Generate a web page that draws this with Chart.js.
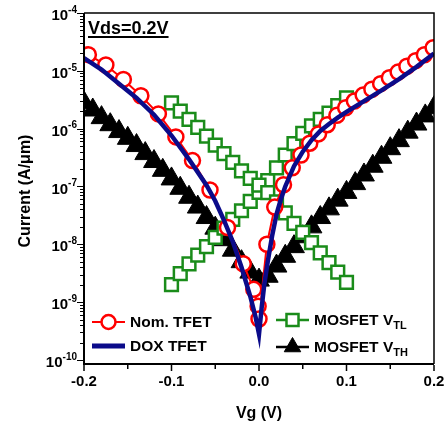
<!DOCTYPE html>
<html>
<head>
<meta charset="utf-8">
<script src="https://cdn.jsdelivr.net/npm/chart.js@4.4.1/dist/chart.umd.min.js"></script>
<style>
  body { margin: 0; background: #fff; }
  #wrap { width: 448px; height: 428px; }
</style>
</head>
<body>
<div id="wrap"><canvas id="myChart" width="448" height="428"></canvas></div>
<script>
// Nom. TFET (red circles)
const nomVg = [-0.195, -0.175, -0.155, -0.135, -0.115, -0.095, -0.076, -0.056, -0.036, -0.018, -0.006, -0.001, 0.0,
  0.009, 0.018, 0.028, 0.038, 0.048, 0.058, 0.068, 0.078, 0.089, 0.099, 0.109, 0.119, 0.129, 0.139, 0.149, 0.159, 0.169, 0.179, 0.189, 0.199];
const nomI = [1.9e-5, 1.26e-5, 7.1e-6, 3.7e-6, 1.8e-6, 7.2e-7, 2.8e-7, 8.7e-8, 1.95e-8, 4.6e-9, 1.66e-9, 8.5e-10, 5.1e-10,
  1.0e-8, 4.4e-8, 1.07e-7, 2.1e-7, 3.5e-7, 5.6e-7, 8.1e-7, 1.17e-6, 1.7e-6, 2.3e-6, 3.0e-6, 3.8e-6, 4.8e-6, 6.0e-6, 7.6e-6, 9.5e-6, 1.2e-5, 1.5e-5, 1.9e-5, 2.5e-5];

// DOX TFET (blue line)
const doxVg = [-0.2, -0.18, -0.16, -0.14, -0.12, -0.1, -0.08, -0.06, -0.05, -0.04, -0.03, -0.02, -0.01, -0.004, 0.0,
  0.003, 0.006, 0.01, 0.015, 0.02, 0.025, 0.03, 0.04, 0.05, 0.06, 0.07, 0.08, 0.09, 0.1, 0.12, 0.14, 0.16, 0.18, 0.2];
const doxI = [1.66e-5, 1.05e-5, 6.0e-6, 3.4e-6, 1.74e-6, 7.6e-7, 2.95e-7, 1.05e-7, 5.6e-8, 2.6e-8, 1.12e-8, 4.0e-9, 1.26e-9, 5.6e-10, 2.8e-10,
  7.9e-10, 2.0e-9, 5.0e-9, 1.4e-8, 3.3e-8, 6.0e-8, 1.0e-7, 2.24e-7, 4.0e-7, 6.3e-7, 9.1e-7, 1.2e-6, 1.55e-6, 1.95e-6, 3.0e-6, 4.6e-6, 7.2e-6, 1.17e-5, 2.0e-5];

// MOSFET V_TL (green squares), two branches
const tlVg = [-0.1, -0.09, -0.08, -0.07, -0.06, -0.05, -0.04, -0.03, -0.02, -0.01, 0.0, 0.01, 0.02, 0.03, 0.04, 0.05, 0.06, 0.07, 0.08, 0.09, 0.1];
const tlDownI = [2.8e-6, 2.0e-6, 1.45e-6, 1.05e-6, 7.4e-7, 5.2e-7, 3.7e-7, 2.6e-7, 1.86e-7, 1.38e-7, 1.05e-7, 7.8e-8, 5.4e-8, 3.5e-8, 2.3e-8, 1.6e-8, 1.07e-8, 7.1e-9, 4.8e-9, 3.3e-9, 2.2e-9];
const tlUpI = [2.0e-9, 3.1e-9, 4.6e-9, 6.5e-9, 9.1e-9, 1.32e-8, 1.9e-8, 2.7e-8, 3.8e-8, 5.5e-8, 7.9e-8, 1.26e-7, 2.1e-7, 3.5e-7, 5.5e-7, 8.3e-7, 1.12e-6, 1.45e-6, 1.86e-6, 2.5e-6, 3.4e-6];

// MOSFET V_TH (black triangles)
const thVg = [-0.2, -0.19, -0.18, -0.17, -0.16, -0.15, -0.14, -0.13, -0.12, -0.11, -0.1, -0.09, -0.08, -0.07, -0.06, -0.05, -0.04, -0.03, -0.02, -0.01, 0.0,
  0.01, 0.02, 0.03, 0.04, 0.05, 0.06, 0.07, 0.08, 0.09, 0.1, 0.11, 0.12, 0.13, 0.14, 0.15, 0.16, 0.17, 0.18, 0.19, 0.2];
const thI = [2.8e-6, 2.1e-6, 1.55e-6, 1.17e-6, 8.9e-7, 6.8e-7, 5.1e-7, 3.7e-7, 2.7e-7, 1.9e-7, 1.35e-7, 9.3e-8, 6.5e-8, 4.4e-8, 2.9e-8, 1.9e-8, 1.2e-8, 7.9e-9, 5.0e-9, 3.3e-9, 2.4e-9,
  2.8e-9, 4.2e-9, 6.2e-9, 9.1e-9, 1.35e-8, 2.0e-8, 2.9e-8, 4.1e-8, 5.8e-8, 7.9e-8, 1.12e-7, 1.58e-7, 2.24e-7, 3.2e-7, 4.5e-7, 6.2e-7, 8.7e-7, 1.2e-6, 1.66e-6, 2.3e-6];

const xTicks = [-0.2, -0.1, 0.0, 0.1, 0.2];
const xTickLabels = ['-0.2', '-0.1', '0.0', '0.1', '0.2'];
const xMinorTicks = [-0.15, -0.05, 0.05, 0.15];
const yDecades = [-10, -9, -8, -7, -6, -5, -4];

const FONT = '"Liberation Sans", Arial, sans-serif';
const RED = '#ff0000', BLUE = '#0b0b8a', GREEN = '#1a8c1a', BLACK = '#000000';

const toPts = (xs, ys) => xs.map((x, i) => ({ x: x, y: ys[i] }));

const legendItems = [
  { text: 'Nom. TFET', sub: '', x: 92, y: 322, color: RED, width: 2, point: { pointStyle: 'circle', radius: 7, borderWidth: 2.5, borderColor: RED, backgroundColor: '#fff' } },
  { text: 'DOX TFET', sub: '', x: 92, y: 346, color: BLUE, width: 5, point: null },
  { text: 'MOSFET V', sub: 'TL', x: 276, y: 320, color: GREEN, width: 2.5, point: { pointStyle: 'rect', radius: 8.5, borderWidth: 2.5, borderColor: GREEN, backgroundColor: '#fff' } },
  { text: 'MOSFET V', sub: 'TH', x: 276, y: 347, color: BLACK, width: 2.5, point: { pointStyle: 'triangle', radius: 9.5, borderWidth: 1, borderColor: BLACK, backgroundColor: BLACK } }
];

const decorations = {
  id: 'decorations',
  afterDraw(chart) {
    const { ctx, chartArea: a, scales: { x, y } } = chart;
    ctx.save();
    ctx.strokeStyle = '#000';
    ctx.lineWidth = 1.5;
    ctx.beginPath();
    ctx.moveTo(a.left, a.top); ctx.lineTo(a.right, a.top); ctx.lineTo(a.right, a.bottom);
    ctx.stroke();
    ctx.lineWidth = 2;
    ctx.beginPath();
    ctx.moveTo(a.left, a.top); ctx.lineTo(a.left, a.bottom); ctx.lineTo(a.right, a.bottom);
    ctx.stroke();

    // y ticks, decades and minors
    ctx.lineWidth = 1.2;
    ctx.beginPath();
    yDecades.forEach(d => {
      for (let m = 1; m < 10; m++) {
        const v = m * Math.pow(10, d);
        if (v > y.max || v < y.min) continue;
        const py = Math.round(y.getPixelForValue(v)) + 0.5;
        const len = m === 1 ? 6 : 3;
        ctx.moveTo(a.left - 1, py); ctx.lineTo(a.left - 1 - len, py);
      }
    });
    ctx.stroke();

    // x ticks
    ctx.lineWidth = 1.5;
    ctx.beginPath();
    xTicks.forEach(t => { const px = x.getPixelForValue(t); ctx.moveTo(px, a.bottom + 1); ctx.lineTo(px, a.bottom + 7); });
    xMinorTicks.forEach(t => { const px = x.getPixelForValue(t); ctx.moveTo(px, a.bottom + 1); ctx.lineTo(px, a.bottom + 5); });
    ctx.stroke();

    ctx.fillStyle = '#000';
    // x tick labels
    ctx.font = 'bold 15px ' + FONT;
    ctx.textAlign = 'center';
    ctx.textBaseline = 'middle';
    xTicks.forEach((t, i) => ctx.fillText(xTickLabels[i], x.getPixelForValue(t), 382));

    // y tick labels 10^n
    yDecades.forEach(d => {
      const py = y.getPixelForValue(Math.pow(10, d));
      const ex = String(d);
      ctx.font = 'bold 10px ' + FONT;
      const ew = ctx.measureText(ex).width;
      ctx.font = 'bold 15px ' + FONT;
      const bw = ctx.measureText('10').width;
      const right = 77;
      ctx.textAlign = 'left';
      ctx.textBaseline = 'middle';
      ctx.fillText('10', right - ew - bw, py + 3);
      ctx.font = 'bold 10px ' + FONT;
      ctx.fillText(ex, right - ew, py - 3);
    });

    // axis titles
    ctx.font = 'bold 16px ' + FONT;
    ctx.textAlign = 'center';
    ctx.textBaseline = 'middle';
    ctx.fillText('Vg (V)', x.getPixelForValue(0), 414);
    ctx.save();
    ctx.translate(26, 191);
    ctx.rotate(-Math.PI / 2);
    ctx.fillText('Current (A/\u03bcm)', 0, 0);
    ctx.restore();

    // Vds annotation
    ctx.font = 'bold 18px ' + FONT;
    ctx.textAlign = 'left';
    ctx.fillText('Vds=0.2V', 88, 29);
    const tw = ctx.measureText('Vds=0.2V').width;
    ctx.lineWidth = 2;
    ctx.beginPath(); ctx.moveTo(88, 37); ctx.lineTo(88 + tw, 37); ctx.stroke();

    // legend
    legendItems.forEach(it => {
      ctx.strokeStyle = it.color;
      ctx.lineWidth = it.width;
      ctx.beginPath(); ctx.moveTo(it.x, it.y); ctx.lineTo(it.x + 33, it.y); ctx.stroke();
      if (it.point) {
        ctx.fillStyle = it.point.backgroundColor;
        ctx.strokeStyle = it.point.borderColor;
        ctx.lineWidth = it.point.borderWidth;
        Chart.helpers.drawPoint(ctx, Object.assign({ rotation: 0 }, it.point), it.x + 16.5, it.y);
      }
      ctx.fillStyle = '#000';
      ctx.font = 'bold 15.5px ' + FONT;
      ctx.textAlign = 'left';
      ctx.textBaseline = 'middle';
      const tx = it.x + 38;
      ctx.fillText(it.text, tx, it.y + 1);
      if (it.sub) {
        const w = ctx.measureText(it.text).width;
        ctx.font = 'bold 11px ' + FONT;
        ctx.fillText(it.sub, tx + w, it.y + 6);
      }
    });
    ctx.restore();
  }
};

const ctx = document.getElementById('myChart').getContext('2d');
const myChart = new Chart(ctx, {
  type: 'line',
  data: {
    datasets: [
      { label: 'DOX TFET', data: toPts(doxVg, doxI), borderColor: BLUE, borderWidth: 4.5, pointRadius: 0, order: 0 },
      { label: 'Nom. TFET', data: toPts(nomVg, nomI), borderColor: RED, borderWidth: 2, pointStyle: 'circle', pointRadius: 7.5,
        pointBorderWidth: 2.5, pointBorderColor: RED, pointBackgroundColor: '#fff', order: 1 },
      { label: 'MOSFET VTL', data: toPts(tlVg, tlDownI), borderColor: GREEN, borderWidth: 2, pointStyle: 'rect', pointRadius: 9,
        pointBorderWidth: 2.5, pointBorderColor: GREEN, pointBackgroundColor: '#fff', order: 2 },
      { label: 'MOSFET VTL b', data: toPts(tlVg, tlUpI), borderColor: GREEN, borderWidth: 2, pointStyle: 'rect', pointRadius: 9,
        pointBorderWidth: 2.5, pointBorderColor: GREEN, pointBackgroundColor: '#fff', order: 2 },
      { label: 'MOSFET VTH', data: toPts(thVg, thI), borderColor: BLACK, borderWidth: 2, pointStyle: 'triangle', pointRadius: 12,
        pointBorderWidth: 1, pointBorderColor: BLACK, pointBackgroundColor: BLACK, order: 3 }
    ]
  },
  options: {
    responsive: false,
    animation: false,
    layout: { padding: { top: 12, right: 14, left: 0, bottom: 0 } },
    plugins: { legend: { display: false }, tooltip: { enabled: false } },
    scales: {
      x: { type: 'linear', min: -0.2, max: 0.2, ticks: { display: false }, grid: { display: false }, border: { display: false },
        afterFit(s) { s.height = 64; } },
      y: { type: 'logarithmic', min: 8.5e-11, max: 1e-4, ticks: { display: false }, grid: { display: false }, border: { display: false },
        afterFit(s) { s.width = 84; } }
    }
  },
  plugins: [decorations]
});
</script>
</body>
</html>
